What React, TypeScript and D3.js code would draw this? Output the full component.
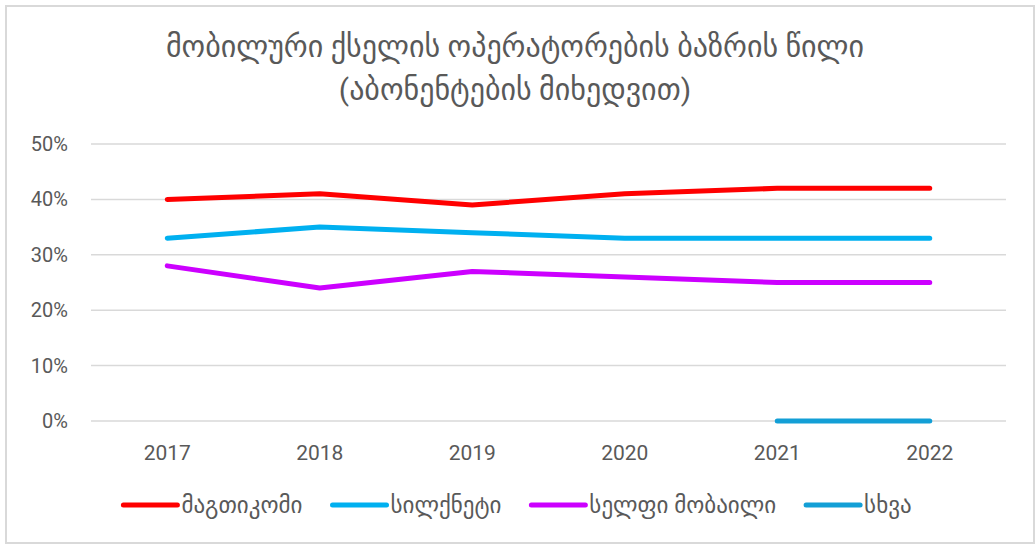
import React, { useEffect, useRef } from "react";
import * as d3 from "d3";

const years = ["2017", "2018", "2019", "2020", "2021", "2022"];
const magticom = [0.40, 0.41, 0.39, 0.41, 0.42, 0.42];
const silknet = [0.33, 0.35, 0.34, 0.33, 0.33, 0.33];
const cellfie = [0.28, 0.24, 0.27, 0.26, 0.25, 0.25];
const other: (number | null)[] = [null, null, null, null, 0.0, 0.0];
const yTicks = [0, 0.1, 0.2, 0.3, 0.4, 0.5];
const titleLines = ["მობილური ქსელის ოპერატორების ბაზრის წილი", "(აბონენტების მიხედვით)"];

const seriesList = [
  { name: "მაგთიკომი", values: magticom as (number | null)[], color: "#ff0000" },
  { name: "სილქნეტი", values: silknet as (number | null)[], color: "#00b0f0" },
  { name: "სელფი მობაილი", values: cellfie as (number | null)[], color: "#cc00ff" },
  { name: "სხვა", values: other, color: "#139fd6" },
];

const W = 1035, H = 544;
const FONT = "Roboto, 'DejaVu Sans', sans-serif";

export default function App() {
  const ref = useRef<SVGSVGElement>(null);
  useEffect(() => {
    const svg = d3.select(ref.current);
    svg.selectAll("*").remove();

    svg.append("rect").attr("x", 6).attr("y", 6).attr("width", W - 7).attr("height", H - 7)
      .attr("fill", "#fff").attr("stroke", "#d9d9d9").attr("stroke-width", 2);

    const x = d3.scaleBand().domain(years).range([91, 1006]);
    const y = d3.scaleLinear().domain([0, 0.5]).range([421, 144]);

    // title
    titleLines.forEach((t, i) => {
      svg.append("text").attr("x", 515).attr("y", 57 + i * 43).attr("text-anchor", "middle")
        .attr("font-family", FONT).attr("font-size", 30).attr("fill", "#595959").text(t);
    });

    // gridlines
    const g = svg.append("g");
    g.selectAll("line.grid").data(yTicks).join("line")
      .attr("x1", 91).attr("x2", 1006)
      .attr("y1", d => y(d)).attr("y2", d => y(d))
      .attr("stroke", "#d9d9d9").attr("stroke-width", 1.5);

    g.selectAll("text.ylab").data(yTicks).join("text")
      .attr("x", 68).attr("y", d => y(d) + 7).attr("text-anchor", "end")
      .attr("font-family", FONT).attr("font-size", 20).attr("fill", "#595959")
      .text(d => d3.format(".0%")(d));

    g.selectAll("text.xlab").data(years).join("text")
      .attr("x", d => (x(d) as number) + x.bandwidth() / 2).attr("y", 460).attr("text-anchor", "middle")
      .attr("font-family", FONT).attr("font-size", 21).attr("fill", "#595959")
      .text(d => d);

    const line = d3.line<number | null>()
      .defined(d => d !== null)
      .x((_, i) => (x(years[i]) as number) + x.bandwidth() / 2)
      .y(d => y(d as number));

    seriesList.forEach(s => {
      svg.append("path").datum(s.values).attr("d", line)
        .attr("fill", "none").attr("stroke", s.color).attr("stroke-width", 5)
        .attr("stroke-linecap", "round").attr("stroke-linejoin", "round");
    });

    // legend
    const lg = svg.append("g");
    const items: { g: any; w: number }[] = [];
    seriesList.forEach(s => {
      const ig = lg.append("g");
      ig.append("line").attr("x1", 0).attr("x2", 54).attr("y1", 0).attr("y2", 0)
        .attr("stroke", s.color).attr("stroke-width", 5).attr("stroke-linecap", "round");
      const t = ig.append("text").attr("x", 58).attr("y", 0).attr("dy", "0.35em")
        .attr("font-family", FONT).attr("font-size", 23).attr("fill", "#595959").text(s.name);
      const tw = (t.node() as SVGTextElement).getComputedTextLength();
      items.push({ g: ig, w: 58 + tw });
    });
    const gap = 30;
    const total = items.reduce((a, b) => a + b.w, 0) + gap * (items.length - 1);
    let cx = (W - total) / 2;
    items.forEach(it => {
      it.g.attr("transform", `translate(${cx},505)`);
      cx += it.w + gap;
    });
  }, []);
  return <svg ref={ref} width={W} height={H} style={{ position: "absolute", left: 0, top: 0 }} />;
}
